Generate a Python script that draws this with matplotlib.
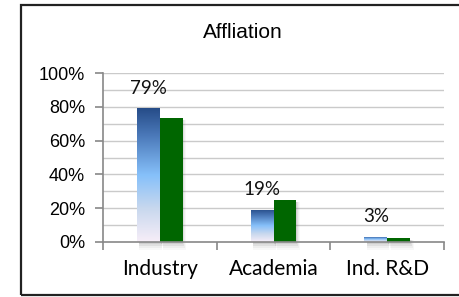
import numpy as np
import matplotlib
matplotlib.use("Agg")
import matplotlib.pyplot as plt
from matplotlib.colors import LinearSegmentedColormap
from matplotlib.patches import Rectangle

categories = ["Industry", "Academia", "Ind. R&D"]
series_a = [79, 19, 3]      # gradient blue bars (labelled)
series_b = [73.5, 25, 2.5]  # green bars
labels_a = ["79%", "19%", "3%"]
yticks = [0, 20, 40, 60, 80, 100]
ytick_labels = ["0%", "20%", "40%", "60%", "80%", "100%"]
title = "Affliation"

W, H, DPI = 459, 297, 100
fig = plt.figure(figsize=(W / DPI, H / DPI), dpi=DPI)
fig.patch.set_facecolor("white")

# outer frame
fig.patches.append(Rectangle((21 / W, 1 - 295 / H), 1.2, (295 - 5) / H,
                             transform=fig.transFigure, fill=False,
                             edgecolor="#222222", linewidth=1.6))

ax = fig.add_axes([103 / W, 1 - 242 / H, (444 - 103) / W, (242 - 73) / H])
ax.set_xlim(-0.5, len(categories) - 0.5)
ax.set_ylim(0, 100)

# gridlines every 10%
for g in range(10, 101, 10):
    ax.axhline(g, color="#cacaca", linewidth=1.0, zorder=0)

cmap = LinearSegmentedColormap.from_list(
    "bluegrad",
    [(0.0, "#f7eef8"), (0.25, "#c8d8ee"), (0.5, "#86c0fa"),
     (0.8, "#4a78b8"), (1.0, "#264c88")])
grad = np.linspace(0, 1, 256).reshape(-1, 1)

bw = 0.2
x = np.arange(len(categories))
for i, (va, vb) in enumerate(zip(series_a, series_b)):
    xl = x[i] - bw
    # soft shadow (right of green bar and below both bars)
    for k, a in zip(range(1, 5), [0.12, 0.09, 0.06, 0.04]):
        dx = 0.008 * k
        ax.add_patch(Rectangle((x[i] + dx, -1.2 * k), bw,
                               vb - 1.5 + 1.2 * k,
                               facecolor="#555555", edgecolor="none",
                               alpha=a, zorder=1, clip_on=False))
        ax.add_patch(Rectangle((xl + 0.02, -1.2 * k), bw, 1.2 * k,
                               facecolor="#555555", edgecolor="none",
                               alpha=a, zorder=1, clip_on=False))
    # blue gradient bar
    im = ax.imshow(grad, cmap=cmap, origin="lower", aspect="auto",
                   extent=(xl, x[i], 0, va), zorder=2, interpolation="bilinear")
    r = Rectangle((xl, 0), bw, va, transform=ax.transData)
    im.set_clip_path(r)
    # green bar
    ax.bar(x[i] + bw / 2, vb, width=bw, color="#006600", zorder=3,
           linewidth=0)
    ax.text(x[i] - bw / 2, va + 12, labels_a[i], ha="center", va="center",
            fontsize=13.5, family=["Lato", "DejaVu Sans"], color="#111111",
            zorder=5)

ax.set_xlim(-0.5, len(categories) - 0.5)
ax.set_ylim(0, 100)

for s in ["top", "right"]:
    ax.spines[s].set_visible(False)
for s in ["left", "bottom"]:
    ax.spines[s].set_color("#888888")
    ax.spines[s].set_linewidth(1.2)
    ax.spines[s].set_zorder(4)

ax.set_yticks(yticks)
ax.set_yticklabels(ytick_labels, family=["Liberation Sans", "DejaVu Sans"],
                   fontsize=13)
ax.tick_params(axis="y", length=6, width=1.2, color="#888888", pad=7)

ax.set_xticks(np.arange(-0.5, len(categories), 1.0))
ax.set_xticklabels([])
ax.set_xticks(x, minor=True)
ax.set_xticklabels(categories, minor=True, family=["Lato", "DejaVu Sans"],
                   fontsize=15)
ax.tick_params(axis="x", which="major", length=6, width=1.2, color="#888888",
               direction="out")
ax.tick_params(axis="x", which="minor", length=0, pad=12)

fig.text(243 / W, 1 - 33 / H, title, ha="center", va="center",
         family=["Liberation Sans", "DejaVu Sans"], fontsize=15)

fig.savefig("out.png", dpi=DPI)
